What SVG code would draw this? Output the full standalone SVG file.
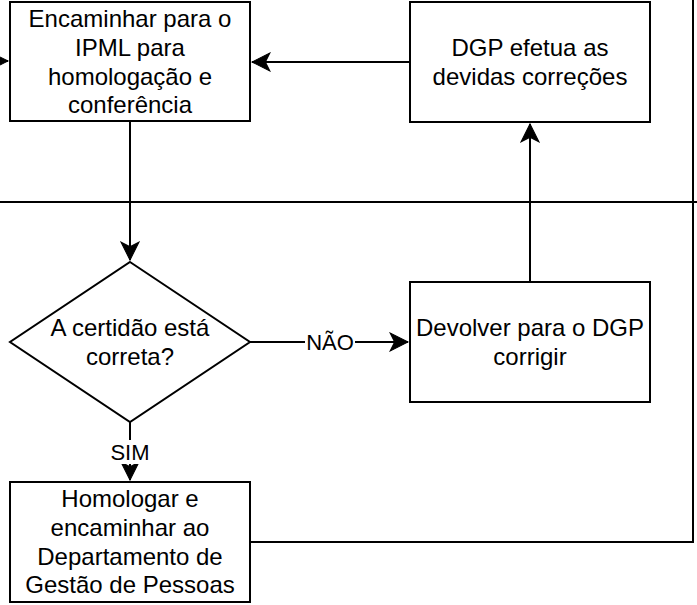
<svg xmlns="http://www.w3.org/2000/svg" width="697" height="605" viewBox="0 0 697 605">
<style>
.box{fill:#fff;stroke:#000;stroke-width:2}
.t{font-family:"Liberation Sans",Arial,sans-serif;font-size:24px;fill:#000;text-anchor:middle}
.lbl{font-family:"Liberation Sans",Arial,sans-serif;font-size:22px;fill:#000;text-anchor:middle}
.edge{fill:none;stroke:#000;stroke-width:2}
</style>
<defs>
<marker id="arr" markerUnits="userSpaceOnUse" markerWidth="20" markerHeight="20" viewBox="-17 -9 18 18" refX="0" refY="0" orient="auto">
<path d="M0,0 L-16,-8 L-12,0 L-16,8 Z" fill="#000" stroke="#000" stroke-width="1"/>
</marker>
</defs>
<g id="connectors">
<line class="edge" x1="0" y1="202" x2="697" y2="202"/>
<path class="edge" d="M250,542 H693 V-20 H-20 V61 H8" marker-end="url(#arr)"/>
<path class="edge" d="M130,121 V260" marker-end="url(#arr)"/>
<path class="edge" d="M410,62 H252" marker-end="url(#arr)"/>
<path class="edge" d="M530,282 V124" marker-end="url(#arr)"/>
<path class="edge" d="M250,342 H408" marker-end="url(#arr)"/>
<path class="edge" d="M130,422 V480" marker-end="url(#arr)"/>
<rect x="305" y="330" width="50" height="24" fill="#fff"/>
<text class="lbl" x="330" y="350">NÃO</text>
<rect x="110" y="440" width="40" height="24" fill="#fff"/>
<text class="lbl" x="130" y="460">SIM</text>
</g>
<g id="n1">
<rect class="box" x="10" y="2" width="240" height="119"/>
<text class="t" x="130" y="27">Encaminhar para o</text>
<text class="t" x="130" y="55.8">IPML para</text>
<text class="t" x="130" y="84.6">homologação e</text>
<text class="t" x="130" y="113.4">conferência</text>
</g>
<g id="n2">
<rect class="box" x="410" y="2" width="240" height="120"/>
<text class="t" x="530" y="56">DGP efetua as</text>
<text class="t" x="530" y="84.8">devidas correções</text>
</g>
<g id="n3">
<polygon class="box" points="130,262 250,342 130,422 10,342"/>
<text class="t" x="130" y="336">A certidão está</text>
<text class="t" x="130" y="364.8">correta?</text>
</g>
<g id="n4">
<rect class="box" x="410" y="282" width="240" height="120"/>
<text class="t" x="530" y="336">Devolver para o DGP</text>
<text class="t" x="530" y="364.8">corrigir</text>
</g>
<g id="n5">
<rect class="box" x="10" y="482" width="240" height="120"/>
<text class="t" x="130" y="507">Homologar e</text>
<text class="t" x="130" y="535.8">encaminhar ao</text>
<text class="t" x="130" y="564.6">Departamento de</text>
<text class="t" x="130" y="593.4">Gestão de Pessoas</text>
</g>
</svg>
